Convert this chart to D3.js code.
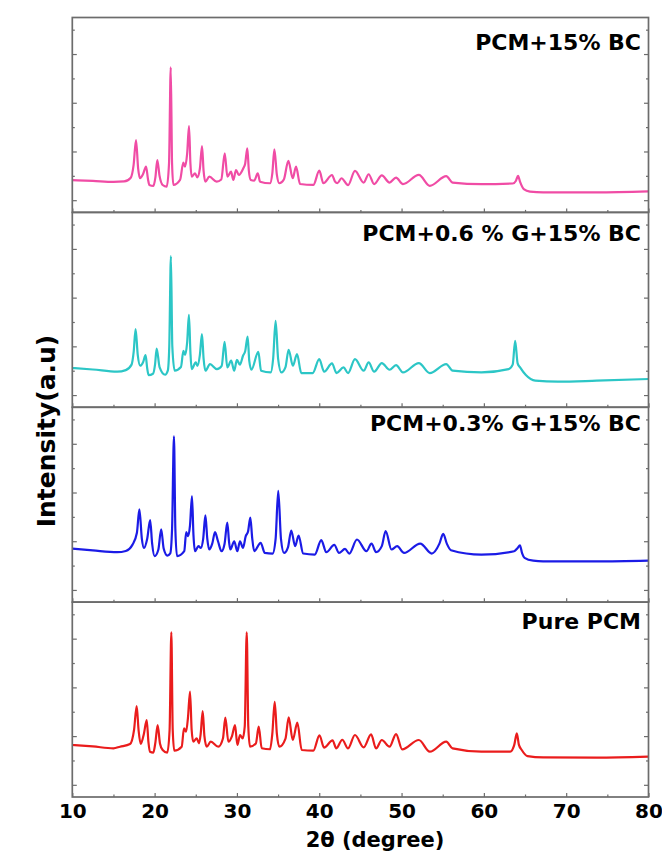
<!DOCTYPE html>
<html>
<head>
<meta charset="utf-8">
<script src="https://cdn.jsdelivr.net/npm/d3@7"></script>
<style>
  html, body { margin: 0; padding: 0; background: #fff; }
  svg { display: block; }
  text { font-family: "DejaVu Sans", "Liberation Sans", Arial, sans-serif; font-weight: bold; fill: #000; }
</style>
</head>
<body>
<svg id="chart" width="662" height="853"></svg>
<script>
// XRD patterns, [2θ (degree), intensity (a.u.)]
const pcm15bc = [
  [10,164],[12.5,158],[15,150],[16.3,154],[17.1,185],[17.45,290],[17.74,494],[18.0,260],[18.23,180],
  [18.6,215],[18.96,275],[19.2,170],[19.36,125],[19.85,117],[20.1,190],[20.33,330],[20.6,200],[20.98,125],
  [21.47,111],[21.75,300],[21.96,1091],[22.12,300],[22.28,125],[23.09,166],[23.49,308],[23.69,275],
  [23.95,380],[24.18,609],[24.35,300],[24.51,193],[24.91,221],[25.19,188],[25.5,260],[25.76,445],
  [25.95,240],[26.16,152],[26.65,193],[27.54,152],[28.1,170],[28.52,385],[28.84,193],[29.28,234],
  [29.56,166],[29.89,248],[30.22,207],[30.78,262],[31.0,300],[31.26,426],[31.45,240],[31.68,166],
  [32.1,160],[32.53,221],[32.81,152],[34.02,139],[34.3,220],[34.55,418],[34.85,210],[35.15,139],
  [35.7,170],[36.25,324],[36.78,180],[37.18,275],[37.67,133],[39.28,125],[40.01,242],[40.5,139],
  [41.55,207],[41.92,152],[42.2,140],[42.7,180],[43.5,124],[44.34,241],[45.4,145],[46.0,213],
  [46.67,132],[47.6,203],[48.54,145],[49.33,186],[50.17,132],[52.1,208],[53.43,118],[55.43,197],
  [56.2,145],[59.7,132],[63.5,137],[63.9,160],[64.15,200],[64.4,150],[64.85,90],[65.6,70],
  [67.2,64],[73.7,64],[80,72]
];
const pcm06g15bc = [
  [10,222],[12.5,210],[15.45,192],[16.5,205],[17.2,250],[17.45,350],[17.69,541],[17.95,330],[18.25,241],
  [18.6,270],[18.9,328],[19.1,220],[19.27,164],[19.8,175],[20.05,250],[20.25,382],[20.6,230],[21.28,167],
  [21.6,200],[21.78,400],[21.98,1140],[22.15,400],[22.44,200],[23.2,230],[23.5,363],[23.7,330],
  [23.95,430],[24.17,658],[24.35,350],[24.5,213],[25.0,268],[25.2,240],[25.5,330],[25.75,500],
  [25.95,300],[26.17,200],[26.73,254],[27.57,213],[28.15,240],[28.5,437],[28.83,227],[29.3,282],
  [29.67,200],[30.0,290],[30.36,249],[30.74,323],[31.0,360],[31.3,481],[31.5,280],[31.76,208],
  [32.6,355],[32.93,200],[34.1,186],[34.4,300],[34.7,609],[35.0,300],[35.4,186],[35.9,230],
  [36.28,372],[36.8,241],[37.3,336],[37.82,181],[39.2,181],[40.0,295],[40.6,192],[41.55,260],
  [42.1,181],[42.95,227],[43.5,181],[44.34,295],[45.4,200],[46.0,268],[46.67,192],[47.6,263],
  [48.54,208],[49.33,246],[50.17,186],[52.1,263],[53.43,181],[55.43,254],[56.2,200],[59.7,186],
  [63.0,213],[63.5,250],[63.8,445],[64.1,260],[64.4,227],[65.1,164],[66.25,118],[69.0,110],
  [73.7,118],[80,132]
];
const pcm03g15bc = [
  [10,340],[12.5,325],[15.45,310],[16.5,320],[17.3,370],[17.85,470],[18.15,661],[18.45,420],[18.71,345],
  [19.1,420],[19.46,573],[19.7,380],[20.0,277],[20.45,330],[20.8,497],[21.1,340],[21.55,282],[21.9,300],
  [22.12,500],[22.35,1261],[22.52,500],[22.72,277],[23.6,318],[23.84,475],[24.07,442],[24.3,530],
  [24.54,771],[24.72,450],[24.9,318],[25.33,359],[25.6,345],[25.9,420],[26.17,612],[26.4,420],
  [26.64,332],[27.0,380],[27.34,475],[27.7,400],[28.13,318],[28.5,380],[28.83,552],[29.05,390],
  [29.2,332],[29.67,400],[30.05,318],[30.37,400],[30.74,345],[31.07,442],[31.35,480],[31.63,593],
  [31.85,430],[32.1,318],[32.88,387],[33.39,304],[34.33,299],[34.7,420],[35.02,813],[35.35,420],
  [35.72,304],[36.2,350],[36.6,488],[37.07,359],[37.49,447],[38.05,299],[39.45,290],[40.25,409],
  [40.85,310],[41.83,370],[42.4,304],[43.13,337],[43.65,299],[44.58,414],[45.74,318],[46.35,381],
  [46.9,310],[47.6,360],[48.07,483],[48.77,332],[49.47,359],[50.3,304],[52.27,381],[53.67,299],
  [54.6,380],[55.06,461],[55.5,380],[56.0,326],[59.7,290],[63.68,318],[64.1,345],[64.38,367],
  [64.65,300],[64.94,263],[66,240],[67.2,235],[73.7,235],[80,241]
];
const purePcm = [
  [10,327],[12.5,315],[15.0,300],[15.8,313],[17.01,335],[17.5,450],[17.82,647],[18.05,450],[18.31,335],
  [18.7,420],[19.04,532],[19.25,350],[19.44,272],[19.84,264],[20.1,350],[20.37,491],[20.65,340],
  [20.98,286],[21.54,264],[21.82,450],[22.03,1252],[22.2,450],[22.39,280],[23.29,313],[23.57,464],
  [23.82,436],[24.05,550],[24.30,765],[24.5,450],[24.70,354],[25.11,382],[25.39,341],[25.6,420],
  [25.84,606],[26.05,400],[26.33,313],[26.82,354],[27.74,313],[28.3,380],[28.59,551],[28.96,354],
  [29.4,400],[29.77,491],[30.05,327],[30.38,409],[30.70,382],[30.95,480],[31.19,1252],[31.38,480],
  [31.59,313],[32.3,340],[32.65,477],[33.01,300],[34.02,292],[34.3,420],[34.59,682],[34.85,420],
  [35.15,313],[35.9,380],[36.29,554],[36.78,368],[37.34,510],[37.87,286],[39.28,280],[40.03,406],
  [40.58,306],[41.62,365],[42.07,300],[42.8,370],[43.5,299],[44.34,409],[45.4,308],[46.3,414],
  [46.9,299],[47.6,368],[48.54,313],[49.33,417],[50.08,291],[52.1,368],[53.43,272],[55.43,354],
  [56.2,299],[59.7,272],[63.2,272],[63.7,330],[64.0,422],[64.25,330],[64.6,286],[65.3,236],
  [67.2,225],[73.7,223],[80,231]
];

const sampleNames = ["PCM+15% BC", "PCM+0.6 % G+15% BC", "PCM+0.3% G+15% BC", "Pure PCM"];
const sampleSeries = [pcm15bc, pcm06g15bc, pcm03g15bc, purePcm];
const xDomain = [10, 80];
const xTickValues = [10, 20, 30, 40, 50, 60, 70, 80];
const xMinorTicks = [15, 25, 35, 45, 55, 65, 75];
const yDomain = [-100, 1500];
const yTickValues = [0, 200, 400, 600, 800, 1000, 1200, 1400];

// layout and styles
const colors = ["#f04ca5", "#2cc6c6", "#1b1be6", "#ea1c1c"];
const labelBaselines = [32.5, 28.5, 23.5, 26.5];
const plot = { left: 72.3, right: 648.5, top: 17.5, bottom: 797 };
const panelH = (plot.bottom - plot.top) / sampleSeries.length;
const frameColor = "#6c6c6c";

const svg = d3.select("#chart");
const x = d3.scaleLinear().domain(xDomain).range([plot.left, plot.right]);

sampleSeries.forEach((series, i) => {
  const top = plot.top + i * panelH;
  const bottom = top + panelH;
  const y = d3.scaleLinear().domain(yDomain).range([bottom, top]);
  const g = svg.append("g").attr("class", "panel");

  const clipId = "clip" + i;
  svg.append("clipPath").attr("id", clipId)
    .append("rect").attr("x", plot.left).attr("y", top)
    .attr("width", plot.right - plot.left).attr("height", panelH);

  // pattern
  const line = d3.line().x(d => x(d[0])).y(d => y(d[1])).curve(d3.curveMonotoneX);
  g.append("path").datum(series)
    .attr("clip-path", `url(#${clipId})`)
    .attr("d", line)
    .attr("fill", "none")
    .attr("stroke", colors[i])
    .attr("stroke-width", 2.2)
    .attr("stroke-linejoin", "round");

  // x ticks along the bottom edge of each panel, pointing inward
  const isLast = i === sampleSeries.length - 1;
  const xAxis = g.append("g").attr("transform", `translate(0,${bottom})`)
    .call(d3.axisBottom(x).tickValues(xTickValues).tickSize(-4).tickPadding(7)
      .tickFormat(isLast ? d3.format("d") : () => ""));
  g.append("g").attr("transform", `translate(0,${bottom})`)
    .call(d3.axisBottom(x).tickValues(xMinorTicks).tickSize(-2.5).tickFormat(() => ""));

  // y ticks on both sides, inward
  const majorY = yTickValues.filter(v => v % 400 === 0);
  const minorY = yTickValues.filter(v => v % 400 !== 0);
  g.append("g").attr("transform", `translate(${plot.left},0)`)
    .call(d3.axisLeft(y).tickValues(majorY).tickSize(-4.5).tickFormat(() => ""));
  g.append("g").attr("transform", `translate(${plot.left},0)`)
    .call(d3.axisLeft(y).tickValues(minorY).tickSize(-2.5).tickFormat(() => ""));
  g.append("g").attr("transform", `translate(${plot.right},0)`)
    .call(d3.axisRight(y).tickValues(majorY).tickSize(-4.5).tickFormat(() => ""));
  g.append("g").attr("transform", `translate(${plot.right},0)`)
    .call(d3.axisRight(y).tickValues(minorY).tickSize(-2.5).tickFormat(() => ""));

  g.selectAll(".domain").remove();
  g.selectAll(".tick line").attr("stroke", frameColor).attr("stroke-width", 1.2);
  xAxis.selectAll(".tick text")
    .style("font-size", "20px")
    .style("font-family", "'DejaVu Sans', sans-serif")
    .style("font-weight", "bold")
    .attr("fill", "#000");

  // panel frame
  g.append("rect")
    .attr("x", plot.left).attr("y", top)
    .attr("width", plot.right - plot.left).attr("height", panelH)
    .attr("fill", "none").attr("stroke", frameColor).attr("stroke-width", 1.7);

  // sample label
  g.append("text")
    .attr("x", 641).attr("y", top + labelBaselines[i])
    .attr("text-anchor", "end")
    .style("font-size", "22px")
    .text(sampleNames[i]);
});

// axis titles
svg.append("text")
  .attr("x", 375).attr("y", 847)
  .attr("text-anchor", "middle")
  .style("font-size", "21px")
  .text("2θ (degree)");

svg.append("text")
  .attr("transform", "translate(55,431) rotate(-90)")
  .attr("text-anchor", "middle")
  .style("font-size", "25px")
  .text("Intensity(a.u)");
</script>
</body>
</html>
